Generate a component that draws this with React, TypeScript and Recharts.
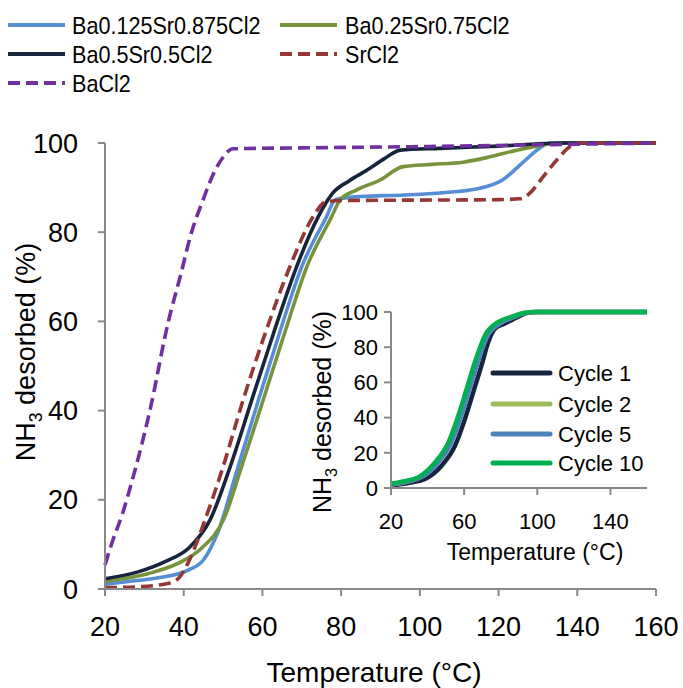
import React from 'react';
import { LineChart, Line, XAxis, YAxis } from 'recharts';

const FONT = '"Liberation Sans", Arial, Helvetica, sans-serif';

type Pt = { t: number; v: number };
const pts = (a: number[][]): Pt[] => a.map(([t, v]) => ({ t, v }));

// main chart: temperature (°C) -> NH3 desorbed (%)
const ba0125 = [[20, 1.1], [26, 1.7], [32.8, 2.4], [41.3, 4.3], [45, 6.5], [48.8, 13], [53.5, 26.5], [59, 42.4], [64.3, 57.3], [70, 72.3], [76.3, 83.5], [78.5, 87.3], [85, 88], [95, 88.3], [105, 88.8], [115, 89.8], [121, 91.7], [126, 95.5], [130.5, 98.9], [133, 100], [160, 100]];
const ba025 = [[20, 1.7], [32.8, 3.9], [39.6, 6.2], [44.6, 9.2], [50.1, 15.5], [54.7, 27.4], [60.2, 42.4], [65.6, 57.3], [71.3, 72.3], [77.6, 83.5], [79.7, 87.2], [84, 89.5], [89.9, 91.7], [95.7, 94.7], [103, 95.2], [111, 95.7], [117.8, 96.9], [124.6, 98.4], [129.7, 99.3], [135, 100], [160, 100]];
const ba05 = [[20, 2.3], [28.6, 3.9], [35.4, 6.2], [41.3, 9.2], [46.7, 15.5], [51.8, 27.4], [57.3, 42.4], [62.8, 57.3], [68.7, 72.3], [74.2, 83.5], [77.9, 88.8], [82, 91.5], [86.5, 93.9], [91, 96.5], [95, 98.4], [105, 98.8], [120, 99.3], [136, 100], [160, 100]];
const srcl2 = [[20, 0.3], [28.6, 0.5], [36.2, 1.3], [38.7, 2.4], [41.3, 6.2], [45, 14.5], [50, 27.4], [55.1, 42.4], [60.7, 57.3], [67, 72.3], [72.9, 83.5], [76, 86.8], [80, 87.1], [100, 87.2], [120, 87.3], [125.5, 87.5], [128, 88.8], [131.3, 92.4], [134.8, 96.2], [138.2, 99.2], [141, 100], [160, 100]];
const bacl2 = [[20, 5.4], [21.9, 10.7], [24.4, 16.8], [26.9, 24.3], [31.4, 40], [36.1, 60], [39.1, 70], [42, 80], [44.9, 87.2], [47.5, 93], [50, 96.8], [52.5, 98.7], [70, 98.9], [100, 99.2], [130, 99.6], [160, 100]];

// inset: cycling of the same sample
const cycle1 = [[20, 1.5], [30, 3], [38.9, 5.3], [47.9, 12.9], [55.1, 24.2], [60.5, 39.4], [65, 54.5], [69.5, 69.7], [73.2, 83], [76.8, 90.5], [82.2, 93.4], [89.4, 97.2], [94.8, 99.6], [100, 100], [160, 100]];
const cycle2 = [[20, 2], [35.8, 6], [45, 14.5], [52.3, 26], [57.8, 41.3], [62.3, 56.4], [66.8, 71.6], [72.2, 86.7], [79, 93.8], [86.5, 97], [93.5, 99.5], [99, 100], [160, 100]];
const cycle5 = [[20, 2], [36, 5.8], [45.5, 14], [53, 26], [58.5, 41.3], [63, 56.4], [67.5, 71.6], [72.8, 86.5], [80, 93.6], [87, 97], [94, 99.5], [99.5, 100], [160, 100]];
const cycle10 = [[20, 2.5], [28, 4], [35.3, 6.3], [44.3, 14.8], [51.5, 26.1], [56.9, 41.3], [61.4, 56.4], [65.9, 71.6], [71.4, 86.7], [78.6, 94.3], [85.8, 97.2], [93, 99.6], [98.4, 100], [160, 100]];

const xTicks = [20, 40, 60, 80, 100, 120, 140, 160];
const yTicks = [0, 20, 40, 60, 80, 100];
const insetXTicks = [20, 60, 100, 140];

const mainSeries = [
  { name: 'Ba0.125Sr0.875Cl2', data: pts(ba0125), color: '#558ED5', dash: '' },
  { name: 'Ba0.25Sr0.75Cl2', data: pts(ba025), color: '#77933C', dash: '' },
  { name: 'Ba0.5Sr0.5Cl2', data: pts(ba05), color: '#17253C', dash: '' },
  { name: 'SrCl2', data: pts(srcl2), color: '#953735', dash: '12 6' },
  { name: 'BaCl2', data: pts(bacl2), color: '#7030A0', dash: '12 6' },
];

const insetSeries = [
  { name: 'Cycle 1', data: pts(cycle1), color: '#17253C' },
  { name: 'Cycle 2', data: pts(cycle2), color: '#9BBB59' },
  { name: 'Cycle 5', data: pts(cycle5), color: '#4F81BD' },
  { name: 'Cycle 10', data: pts(cycle10), color: '#00B050' },
];

const AXIS = '#898989';

function YTitle({ px, py, size }: { px: number; py: number; size: number }) {
  return (
    <text x={px} y={py} transform={`rotate(-90 ${px} ${py})`} textAnchor="middle"
      fontSize={size} fontFamily={FONT} fill="#000">
      NH<tspan dy={size * 0.25} fontSize={size * 0.65}>3</tspan>
      <tspan dy={-size * 0.25}> desorbed (%)</tspan>
    </text>
  );
}

function XTitle({ px, py, size }: { px: number; py: number; size: number }) {
  return (
    <text x={px} y={py} textAnchor="middle" fontSize={size} fontFamily={FONT} fill="#000">
      Temperature (°C)
    </text>
  );
}

export default function App() {
  const legendRows = [25, 54, 83];
  const legendCols = [{ lx: 8, tx: 72 }, { lx: 280, tx: 345 }];
  const insetRows = [373, 404, 434, 463];

  return (
    <div style={{ position: 'absolute', left: 0, top: 0, width: 683, height: 688, background: '#fff' }}>
      <div style={{ position: 'absolute', left: 0, top: 0 }}>
        <LineChart width={683} height={688} margin={{ top: 143, right: 27, bottom: 39, left: 25 }}>
          <XAxis type="number" dataKey="t" domain={[20, 160]} ticks={xTicks} interval={0} height={60}
            axisLine={{ stroke: AXIS, strokeWidth: 2 }} tickLine={{ stroke: AXIS, strokeWidth: 2 }}
            tickSize={7} tickMargin={21}
            tick={{ fill: '#000', fontSize: 27, fontFamily: FONT }}
            label={<XTitle px={374} py={682} size={28} />} />
          <YAxis type="number" dataKey="v" domain={[0, 100]} ticks={yTicks} interval={0} width={80}
            axisLine={{ stroke: AXIS, strokeWidth: 2 }} tickLine={{ stroke: AXIS, strokeWidth: 2 }}
            tickSize={7} tickMargin={20}
            tick={{ fill: '#000', fontSize: 27, fontFamily: FONT }}
            label={<YTitle px={35} py={352} size={27} />} />
          {mainSeries.map((s) => (
            <Line key={s.name} data={s.data} dataKey="v" name={s.name} type="monotone"
              stroke={s.color} strokeWidth={3.6} strokeDasharray={s.dash || undefined}
              dot={false} activeDot={false} isAnimationActive={false} />
          ))}
        </LineChart>
      </div>

      <div style={{ position: 'absolute', left: 290, top: 290 }}>
        <LineChart width={370} height={290} margin={{ top: 22, right: 13, bottom: 32, left: 41 }}>
          <XAxis type="number" dataKey="t" domain={[20, 160]} ticks={insetXTicks} interval={0} height={60}
            axisLine={{ stroke: AXIS, strokeWidth: 2 }} tickLine={{ stroke: AXIS, strokeWidth: 2 }}
            tickSize={7} tickMargin={18}
            tick={{ fill: '#000', fontSize: 22, fontFamily: FONT }}
            label={<XTitle px={245} py={270} size={23} />} />
          <YAxis type="number" dataKey="v" domain={[0, 100]} ticks={yTicks} interval={0} width={60}
            axisLine={{ stroke: AXIS, strokeWidth: 2 }} tickLine={{ stroke: AXIS, strokeWidth: 2 }}
            tickSize={7} tickMargin={6}
            tick={{ fill: '#000', fontSize: 22, fontFamily: FONT }}
            label={<YTitle px={41} py={122} size={25} />} />
          {insetSeries.map((s) => (
            <Line key={s.name} data={s.data} dataKey="v" name={s.name} type="monotone"
              stroke={s.color} strokeWidth={4.5}
              dot={false} activeDot={false} isAnimationActive={false} />
          ))}
        </LineChart>
      </div>

      <svg width={683} height={688} style={{ position: 'absolute', left: 0, top: 0, pointerEvents: 'none' }}>
        {mainSeries.map((s, i) => {
          const c = legendCols[i % 2];
          const y = legendRows[Math.floor(i / 2)];
          return (
            <g key={s.name}>
              <line x1={c.lx} x2={c.lx + 57} y1={y} y2={y} stroke={s.color} strokeWidth={4}
                strokeDasharray={s.dash || undefined} />
              <text transform={`translate(${c.tx} ${y + 9}) scale(0.9 1)`} fontSize={24}
                fontFamily={FONT} fill="#000">{s.name}</text>
            </g>
          );
        })}
        {insetSeries.map((s, i) => (
          <g key={s.name}>
            <line x1={493} x2={550} y1={insetRows[i]} y2={insetRows[i]} stroke={s.color}
              strokeWidth={5} strokeLinecap="round" />
            <text x={558} y={insetRows[i] + 8} fontSize={22} fontFamily={FONT} fill="#000">{s.name}</text>
          </g>
        ))}
      </svg>
    </div>
  );
}
